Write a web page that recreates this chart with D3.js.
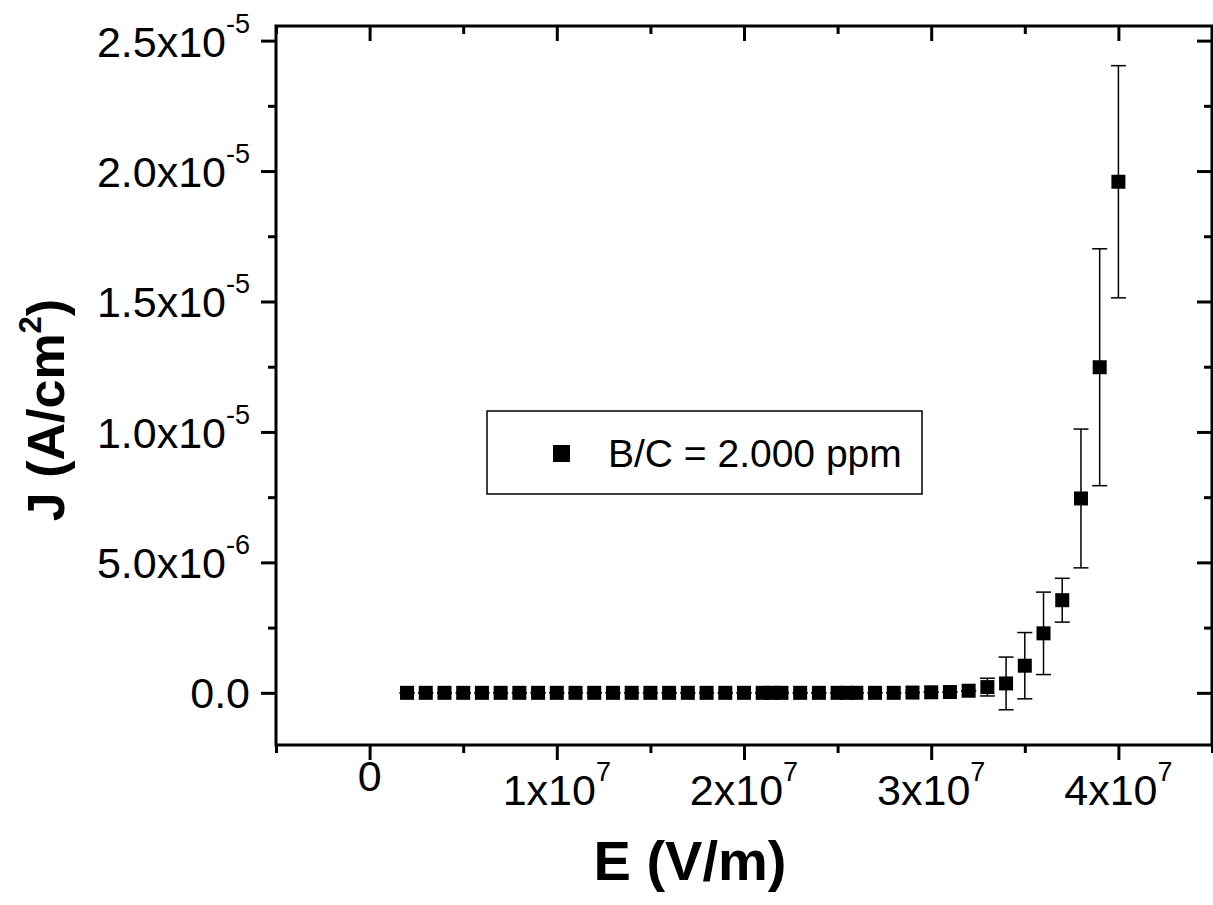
<!DOCTYPE html>
<html>
<head>
<meta charset="utf-8">
<script src="https://cdn.jsdelivr.net/npm/d3@7"></script>
<style>
  html, body { margin: 0; padding: 0; background: #fff; }
  svg { display: block; font-family: "Liberation Sans", Arial, sans-serif; }
</style>
</head>
<body>
<svg id="chart" width="1213" height="905"></svg>
<script>
// Field strength E (V/m)
const fieldE = [
  2e6, 3e6, 4e6, 5e6, 6e6, 7e6, 8e6, 9e6, 10e6, 11e6, 12e6, 13e6, 14e6, 15e6,
  16e6, 17e6, 18e6, 19e6, 20e6, 21e6, 21.5e6, 22e6, 23e6, 24e6, 25e6, 25.5e6,
  26e6, 27e6, 28e6, 29e6, 30e6, 31e6, 32e6, 33e6, 34e6, 35e6, 36e6, 37e6,
  38e6, 39e6, 40e6
];
// Current density J (A/cm^2)
const currentJ = [
  0, 0, 0, 0, 0, 0, 0, 0, 0, 0, 0, 0, 0, 0,
  0, 0, 0, 0, 0, 0, 0, 0, 0, 0, 0, 0,
  0, 0, 0, 0.01e-6, 0.02e-6, 0.03e-6, 0.08e-6, 0.22e-6, 0.36e-6, 1.04e-6, 2.28e-6, 3.55e-6,
  7.45e-6, 12.48e-6, 19.59e-6
];
// Symmetric error of J
const errorJ = [
  0, 0, 0, 0, 0, 0, 0, 0, 0, 0, 0, 0, 0, 0,
  0, 0, 0, 0, 0, 0, 0, 0, 0, 0, 0, 0,
  0, 0, 0, 0, 0, 0, 0, 0.34e-6, 1.01e-6, 1.27e-6, 1.58e-6, 0.84e-6,
  2.66e-6, 4.54e-6, 4.45e-6
];

const xMajorTicks = [0, 1e7, 2e7, 3e7, 4e7];
const xTickLabels = [["0", ""], ["1x10", "7"], ["2x10", "7"], ["3x10", "7"], ["4x10", "7"]];
const yMajorTicks = [0, 5e-6, 1e-5, 1.5e-5, 2e-5, 2.5e-5];
const yTickLabels = [["0.0", ""], ["5.0x10", "-6"], ["1.0x10", "-5"], ["1.5x10", "-5"], ["2.0x10", "-5"], ["2.5x10", "-5"]];
const seriesName = "B/C = 2.000 ppm";

const svg = d3.select("#chart");
const L = 276, R = 1212, T = 26, B = 745;

const x = d3.scaleLinear().domain([-5e6, 4.5e7]).range([L, R]);
const y = d3.scaleLinear().domain([-2e-6, 2.556e-5]).range([B, T]);

const xMinor = d3.range(-5e6, 4.5e7 + 1, 5e6).filter(v => !xMajorTicks.includes(v));
const yMinor = d3.range(2.5e-6, 2.5e-5, 5e-6);

const tickW = 3, majorLen = 15, minorLen = 8;

function drawAxis(axisGen, transform, ticks, len) {
  const g = svg.append("g").attr("transform", transform)
    .call(axisGen.tickValues(ticks).tickSize(len).tickFormat(""));
  g.select(".domain").remove();
  g.selectAll(".tick line").attr("stroke", "#000").attr("stroke-width", tickW);
  return g;
}
// bottom: outward ticks
drawAxis(d3.axisBottom(x), `translate(0,${B})`, xMajorTicks, majorLen);
drawAxis(d3.axisBottom(x), `translate(0,${B})`, xMinor, minorLen);
// top: inward ticks
drawAxis(d3.axisBottom(x), `translate(0,${T})`, xMajorTicks, majorLen);
drawAxis(d3.axisBottom(x), `translate(0,${T})`, xMinor, minorLen);
// left: outward ticks
drawAxis(d3.axisLeft(y), `translate(${L},0)`, yMajorTicks, majorLen);
drawAxis(d3.axisLeft(y), `translate(${L},0)`, yMinor, minorLen);
// right: inward ticks
drawAxis(d3.axisLeft(y), `translate(${R},0)`, yMajorTicks, majorLen);
drawAxis(d3.axisLeft(y), `translate(${R},0)`, yMinor, minorLen);

// frame
svg.append("rect")
  .attr("x", L).attr("y", T).attr("width", R - L).attr("height", B - T)
  .attr("fill", "none").attr("stroke", "#000").attr("stroke-width", 3);

// y tick labels
const yLab = svg.append("g");
yMajorTicks.forEach((v, i) => {
  const [base, sup] = yTickLabels[i];
  const t = yLab.append("text")
    .attr("x", 250).attr("y", y(v) + (sup ? 16 : 15))
    .attr("text-anchor", "end").attr("font-size", 43).attr("fill", "#000");
  t.append("tspan").text(base);
  if (sup) t.append("tspan").attr("dy", -24).attr("font-size", 27).text(sup);
});

// x tick labels
const xLab = svg.append("g");
xMajorTicks.forEach((v, i) => {
  const [base, sup] = xTickLabels[i];
  const t = xLab.append("text")
    .attr("x", x(v)).attr("y", sup ? 805 : 791)
    .attr("text-anchor", "middle").attr("font-size", 43).attr("fill", "#000");
  t.append("tspan").text(base);
  if (sup) t.append("tspan").attr("dy", -24).attr("font-size", 27).text(sup);
});

// axis titles
svg.append("text")
  .attr("x", 690).attr("y", 880)
  .attr("text-anchor", "middle").attr("font-size", 56).attr("font-weight", "bold")
  .text("E (V/m)");

const yt = svg.append("text")
  .attr("transform", "translate(64,410) rotate(-90)")
  .attr("text-anchor", "middle").attr("font-size", 52).attr("font-weight", "bold");
yt.append("tspan").text("J (A/cm");
yt.append("tspan").attr("dy", -23).attr("font-size", 31).text("2");
yt.append("tspan").attr("dy", 23).text(")");

// data
const pts = fieldE.map((e, i) => ({ e, j: currentJ[i], err: errorJ[i] }));
const capW = 15, sq = 14;

const eb = svg.append("g").attr("stroke", "#000").attr("stroke-width", 1.5);
pts.forEach(d => {
  const cx = x(d.e), y1 = y(d.j + d.err), y2 = y(d.j - d.err);
  eb.append("line").attr("x1", cx).attr("x2", cx).attr("y1", y1).attr("y2", y2);
  eb.append("line").attr("x1", cx - capW / 2).attr("x2", cx + capW / 2).attr("y1", y1).attr("y2", y1);
  eb.append("line").attr("x1", cx - capW / 2).attr("x2", cx + capW / 2).attr("y1", y2).attr("y2", y2);
});

svg.append("g").selectAll("rect").data(pts).join("rect")
  .attr("x", d => x(d.e) - sq / 2).attr("y", d => y(d.j) - sq / 2)
  .attr("width", sq).attr("height", sq).attr("fill", "#000");

// legend
const lg = svg.append("g");
lg.append("rect").attr("x", 487).attr("y", 411).attr("width", 435).attr("height", 83)
  .attr("fill", "#fff").attr("stroke", "#000").attr("stroke-width", 1.5);
lg.append("rect").attr("x", 553).attr("y", 445).attr("width", 17).attr("height", 17).attr("fill", "#000");
lg.append("text").attr("x", 608).attr("y", 467).attr("font-size", 39).attr("fill", "#000").text(seriesName);
</script>
</body>
</html>
